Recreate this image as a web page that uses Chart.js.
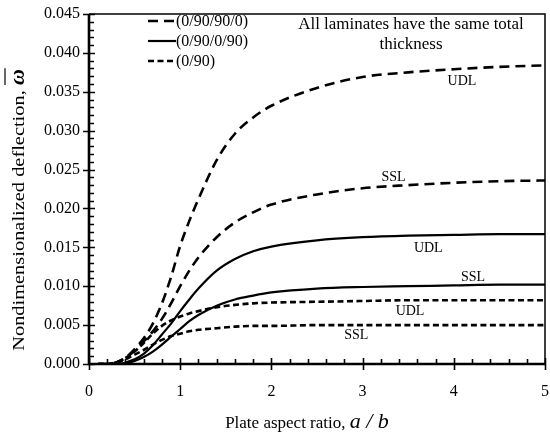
<!DOCTYPE html>
<html>
<head>
<meta charset="utf-8">
<script src="https://cdn.jsdelivr.net/npm/chart.js@4.4.1/dist/chart.umd.min.js"></script>
<style>
  html, body { margin: 0; padding: 0; background: #fff; }
  #wrap { width: 550px; height: 438px; }
</style>
</head>
<body>
<div id="wrap"><canvas id="chart"></canvas></div>
<script>
// plate aspect ratio a/b
const ratio = [0.1, 0.2, 0.3, 0.4, 0.5, 0.6, 0.7, 0.8, 0.9, 1.0, 1.1, 1.2, 1.4, 1.6, 1.8, 2.0, 2.5, 3.0, 3.5, 4.0, 4.5, 5.0];

// (0/90/90/0)
const sym4Udl = [0, 0, 0.0002, 0.0008, 0.0019, 0.0033, 0.0052, 0.0078, 0.0112, 0.0152, 0.0184, 0.0212, 0.0262, 0.0296, 0.0317, 0.0332, 0.0355, 0.0369, 0.0375, 0.0379, 0.0382, 0.0384];
const sym4Ssl = [0, 0, 0.0002, 0.0008, 0.0017, 0.0029, 0.0042, 0.0058, 0.0078, 0.0100, 0.0120, 0.0137, 0.0163, 0.0182, 0.0195, 0.0205, 0.0218, 0.0226, 0.0230, 0.0233, 0.0235, 0.0236];
// (0/90/0/90)
const anti4Udl = [0, 0, 0, 0.0002, 0.0006, 0.0013, 0.0024, 0.0038, 0.0052, 0.0068, 0.0083, 0.0097, 0.0120, 0.0135, 0.0145, 0.0151, 0.0159, 0.0163, 0.0165, 0.0166, 0.0167, 0.0167];
const anti4Ssl = [0, 0, 0, 0.0001, 0.0004, 0.0009, 0.0016, 0.0025, 0.0035, 0.0045, 0.0055, 0.0063, 0.0075, 0.0083, 0.0088, 0.0092, 0.0097, 0.0099, 0.0100, 0.0101, 0.0102, 0.0102];
// (0/90)
const twoUdl = [0, 0, 0.0002, 0.0008, 0.0016, 0.0027, 0.0039, 0.0049, 0.0056, 0.0061, 0.0065, 0.0068, 0.0073, 0.0076, 0.0078, 0.0079, 0.0080, 0.0081, 0.0082, 0.0082, 0.0082, 0.0082];
const twoSsl = [0, 0, 0.0002, 0.0006, 0.0012, 0.0018, 0.0025, 0.0031, 0.0036, 0.0039, 0.0042, 0.0044, 0.0046, 0.0048, 0.0049, 0.0049, 0.0050, 0.0050, 0.0050, 0.0050, 0.0050, 0.0050];

const layups = ['(0/90/90/0)', '(0/90/0/90)', '(0/90)'];
const xTicks = [0, 1, 2, 3, 4, 5];
const yTicks = [0, 0.005, 0.01, 0.015, 0.02, 0.025, 0.03, 0.035, 0.04, 0.045];

// curve labels, in data units
const notes = [
  { text: 'UDL', x: 4.09, y: 0.0364 },
  { text: 'SSL', x: 3.34, y: 0.0240 },
  { text: 'UDL', x: 3.72, y: 0.0149 },
  { text: 'SSL', x: 4.21, y: 0.0111 },
  { text: 'UDL', x: 3.52, y: 0.0068 },
  { text: 'SSL', x: 2.93, y: 0.0037 }
];

const SERIF = '"Liberation Serif", "Times New Roman", serif';
const styles = [
  { width: 2.6, dash: [10, 6] },
  { width: 2.2, dash: [] },
  { width: 2.6, dash: [6, 3.5] }
];

function serie(label, valores, estilo) {
  return {
    label: label,
    data: ratio.map((r, i) => ({ x: r, y: valores[i] })),
    borderColor: '#000',
    borderWidth: estilo.width,
    borderDash: estilo.dash,
    pointRadius: 0,
    fill: false,
    cubicInterpolationMode: 'monotone'
  };
}

const frame = {
  id: 'frame',
  afterDraw(chart) {
    const { ctx, chartArea: a, scales } = chart;
    const x = scales.x, y = scales.y;
    ctx.save();
    ctx.strokeStyle = '#000';
    ctx.lineWidth = 1.5;
    ctx.beginPath();
    ctx.moveTo(a.left, a.top);
    ctx.lineTo(a.right, a.top);
    ctx.lineTo(a.right, a.bottom);
    ctx.stroke();

    ctx.lineWidth = 1.6;
    ctx.beginPath();
    for (let i = 0; i <= 45; i++) {
      const py = Math.round(y.getPixelForValue(i / 1000)) + 0.5;
      if (i % 5 === 0) { ctx.moveTo(a.left - 6, py); ctx.lineTo(a.left + 6, py); }
      else { ctx.moveTo(a.left, py); ctx.lineTo(a.left + 5, py); }
    }
    for (let i = 0; i <= 25; i++) {
      const px = Math.round(x.getPixelForValue(i / 5)) + 0.5;
      if (i % 5 === 0) { ctx.moveTo(px, a.bottom + 6); ctx.lineTo(px, a.bottom - 6); }
      else { ctx.moveTo(px, a.bottom); ctx.lineTo(px, a.bottom - 5); }
    }
    ctx.stroke();

    ctx.lineWidth = 2.6;
    ctx.beginPath();
    ctx.moveTo(a.left, a.top);
    ctx.lineTo(a.left, a.bottom);
    ctx.lineTo(a.right, a.bottom);
    ctx.stroke();

    // legend
    ctx.fillStyle = '#000';
    ctx.font = '16px ' + SERIF;
    ctx.textBaseline = 'middle';
    layups.forEach((nome, i) => {
      const ly = 21 + i * 20;
      ctx.lineWidth = styles[i].width;
      ctx.setLineDash(styles[i].dash);
      ctx.beginPath();
      ctx.moveTo(148, ly);
      ctx.lineTo(176, ly);
      ctx.stroke();
      ctx.setLineDash([]);
      ctx.fillText(nome, 176, ly + 1);
    });

    // curve notes
    ctx.font = '14px ' + SERIF;
    ctx.textAlign = 'center';
    notes.forEach((n) => {
      ctx.fillText(n.text, x.getPixelForValue(n.x), y.getPixelForValue(n.y));
    });
    ctx.font = '16px ' + SERIF;
    ctx.save();
    ctx.translate(411, 0);
    ctx.scale(1.06, 1);
    ctx.fillText('All laminates have the same total', 0, 25);
    ctx.fillText('thickness', 0, 45);
    ctx.restore();

    // x title
    ctx.textAlign = 'left';
    ctx.textBaseline = 'alphabetic';
    const t1 = 'Plate aspect ratio, ';
    const t2 = 'a / b';
    ctx.font = '17px ' + SERIF;
    const w1 = ctx.measureText(t1).width;
    ctx.font = 'italic 22px ' + SERIF;
    const w2 = ctx.measureText(t2).width;
    let sx = 307 - (w1 + w2) / 2;
    ctx.font = '17px ' + SERIF;
    ctx.fillText(t1, sx, 428);
    ctx.font = 'italic 22px ' + SERIF;
    ctx.fillText(t2, sx + w1, 428);

    // y title
    ctx.save();
    ctx.translate(24, 210);
    ctx.rotate(-Math.PI / 2);
    const s1 = 'Nondimensionalized deflection, ';
    const k = 1.2;
    ctx.font = '17px ' + SERIF;
    const u1 = ctx.measureText(s1).width * k;
    ctx.font = 'italic bold 22px ' + SERIF;
    const u2 = ctx.measureText('\u03c9').width;
    const start = -(u1 + u2) / 2;
    ctx.save();
    ctx.translate(start, 0);
    ctx.scale(k, 1);
    ctx.font = '17px ' + SERIF;
    ctx.fillText(s1, 0, 0);
    ctx.restore();
    ctx.font = 'italic bold 22px ' + SERIF;
    ctx.fillText('\u03c9', start + u1, 0);
    ctx.lineWidth = 1.2;
    ctx.beginPath();
    ctx.moveTo(start + u1, -19);
    ctx.lineTo(start + u1 + u2 + 1, -19);
    ctx.stroke();
    ctx.restore();

    ctx.restore();
  }
};

new Chart(document.getElementById('chart'), {
  type: 'line',
  data: {
    datasets: [
      serie('(0/90/90/0) UDL', sym4Udl, styles[0]),
      serie('(0/90/90/0) SSL', sym4Ssl, styles[0]),
      serie('(0/90/0/90) UDL', anti4Udl, styles[1]),
      serie('(0/90/0/90) SSL', anti4Ssl, styles[1]),
      serie('(0/90) UDL', twoUdl, styles[2]),
      serie('(0/90) SSL', twoSsl, styles[2])
    ]
  },
  options: {
    responsive: true,
    maintainAspectRatio: false,
    animation: false,
    layout: { padding: { top: 14, right: 5, left: 0, bottom: 0 } },
    plugins: { legend: { display: false }, tooltip: { enabled: false } },
    scales: {
      x: {
        type: 'linear',
        min: 0,
        max: 5,
        afterFit: (s) => { s.height = 74; s.paddingLeft = 0; s.paddingRight = 0; },
        afterBuildTicks: (s) => { s.ticks = xTicks.map((v) => ({ value: v })); },
        ticks: { color: '#000', font: { family: SERIF, size: 16 }, padding: 18, maxRotation: 0 },
        grid: { display: false, drawTicks: false },
        border: { display: false }
      },
      y: {
        min: 0,
        max: 0.045,
        afterFit: (s) => { s.width = 89; s.paddingTop = 0; s.paddingBottom = 0; },
        afterBuildTicks: (s) => { s.ticks = yTicks.map((v) => ({ value: v })); },
        ticks: { color: '#000', font: { family: SERIF, size: 16 }, padding: 9, callback: (v) => Number(v).toFixed(3) },
        grid: { display: false, drawTicks: false },
        border: { display: false }
      }
    }
  },
  plugins: [frame]
});
</script>
</body>
</html>
